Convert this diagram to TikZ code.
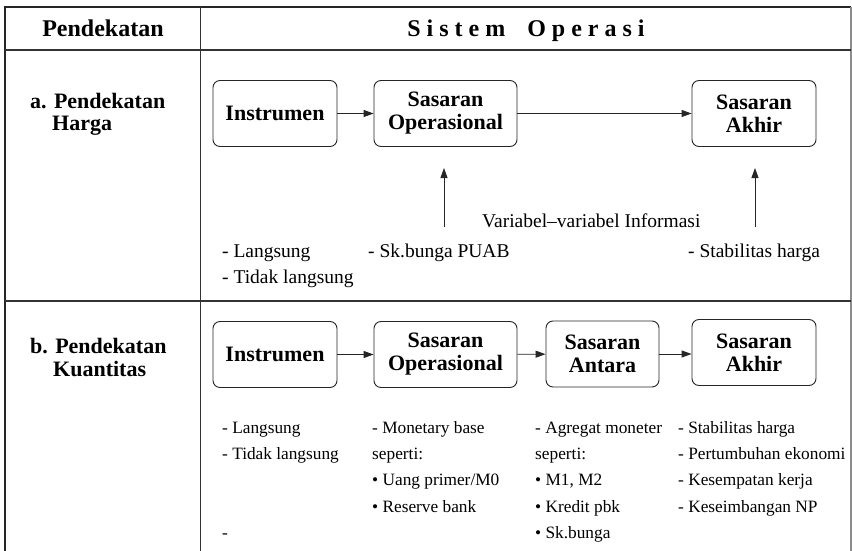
\documentclass[tikz,border=0pt]{standalone}
\usepackage{fontspec}
\setmainfont{Liberation Serif}
\usetikzlibrary{arrows.meta}

\tikzset{
  garis/.style={draw=black!80, line width=1.2pt},
  kotak/.style={draw=black!85, rounded corners=7pt, line width=0.9pt, align=center,
    inner sep=0pt, minimum height=66pt, font=\fontsize{22}{23}\selectfont\bfseries},
  panah/.style={draw=black!85, line width=0.9pt, -{Triangle[length=10pt,width=7pt]}},
  judul/.style={anchor=base west, inner sep=0pt, font=\fontsize{22}{23}\selectfont\bfseries},
  teksA/.style={anchor=base west, inner sep=0pt, font=\fontsize{19.5}{24}\selectfont},
  teksB/.style={anchor=base west, inner sep=0pt, font=\fontsize{17.3}{21}\selectfont},
}

\begin{document}
\begin{tikzpicture}[x=1pt,y=-1pt]

        \useasboundingbox (0,0) rectangle (852,551);

        % tabel
        \draw[draw=black!85, line width=2.8pt] (3.6,7) -- (851,7);
        \draw[draw=black!85, line width=2.6pt] (5,7) -- (5,551);
        \draw[draw=black!45, line width=1.4pt] (851,7) -- (851,551);
        \draw[garis] (5,50) -- (851,50);
        \draw[garis] (5,301) -- (851,301);
        \draw[garis] (200.6,7) -- (200.6,551);

        % kepala tabel
        \node[anchor=base, inner sep=0pt, font=\fontsize{24}{26}\selectfont\bfseries] (hPendekatan) at (103,37) {Pendekatan};
        \node[anchor=base, inner sep=0pt, font=\fontsize{24}{26}\selectfont\bfseries] (hSistem) at (526,37) {S i s t e m\hspace{22pt}O p e r a s i};

        % a. pendekatan harga
        \node[judul] (judulA1) at (30,108) {a. Pendekatan};
        \node[judul] (judulA2) at (52,130) {Harga};

        \node[kotak, minimum width=124pt] (instA) at (275,113.5) {Instrumen};
        \node[kotak, minimum width=143pt] (soA) at (445.5,113.5) {Sasaran\\Operasional};
        \node[kotak, minimum width=124pt] (akhirA) at (754,113.5) {Sasaran\\Akhir};

        \draw[panah] (instA) -- (soA);
        \draw[panah] (soA) -- (akhirA);

        \coordinate (infoSO) at (444,227);
        \coordinate (tipSO) at (444,168);
        \coordinate (infoAkhir) at (755,227);
        \coordinate (tipAkhir) at (755,168);
        \draw[panah] (infoSO) -- (tipSO);
        \draw[panah] (infoAkhir) -- (tipAkhir);

        \node[teksA] (info) at (482,227) {Variabel--variabel Informasi};
        \node[teksA] (a1) at (222,257) {- Langsung};
        \node[teksA] (a2) at (222,283) {- Tidak langsung};
        \node[teksA] (a3) at (368,257) {- Sk.bunga PUAB};
        \node[teksA] (a4) at (688,257) {- Stabilitas harga};

        % b. pendekatan kuantitas
        \node[judul] (judulB1) at (30,353) {b. Pendekatan};
        \node[judul] (judulB2) at (53,376) {Kuantitas};

        \node[kotak, minimum width=124pt] (instB) at (275,354.5) {Instrumen};
        \node[kotak, minimum width=143pt] (soB) at (445.5,354.5) {Sasaran\\Operasional};
        \node[kotak, minimum width=113pt] (antaraB) at (602.5,354) {Sasaran\\Antara};
        \node[kotak, minimum width=124pt] (akhirB) at (754,352.5) {Sasaran\\Akhir};

        \draw[panah] (instB) -- (soB);
        \draw[panah] (soB) -- (antaraB);
        \draw[panah] (antaraB.east) -- (akhirB.west |- antaraB.east);

        \node[teksB] (b1) at (222,433) {- Langsung};
        \node[teksB] (b2) at (222,459.3) {- Tidak langsung};
        \node[teksB] (b3) at (222,538) {-};

        \node[teksB] (c1) at (372,433) {- Monetary base};
        \node[teksB] (c2) at (372,459.3) {seperti:};
        \node[teksB] (c3) at (372,485.6) {\textbullet\ Uang primer/M0};
        \node[teksB] (c4) at (372,512) {\textbullet\ Reserve bank};

        \node[teksB] (d1) at (535,433) {- Agregat moneter};
        \node[teksB] (d2) at (535,459.3) {seperti:};
        \node[teksB] (d3) at (535,485.6) {\textbullet\ M1, M2};
        \node[teksB] (d4) at (535,512) {\textbullet\ Kredit pbk};
        \node[teksB] (d5) at (535,538) {\textbullet\ Sk.bunga};

        \node[teksB] (e1) at (678,433) {- Stabilitas harga};
        \node[teksB] (e2) at (678,459.3) {- Pertumbuhan ekonomi};
        \node[teksB] (e3) at (678,485.6) {- Kesempatan kerja};
        \node[teksB] (e4) at (678,512) {- Keseimbangan NP};

    \end{tikzpicture}
\end{document}
